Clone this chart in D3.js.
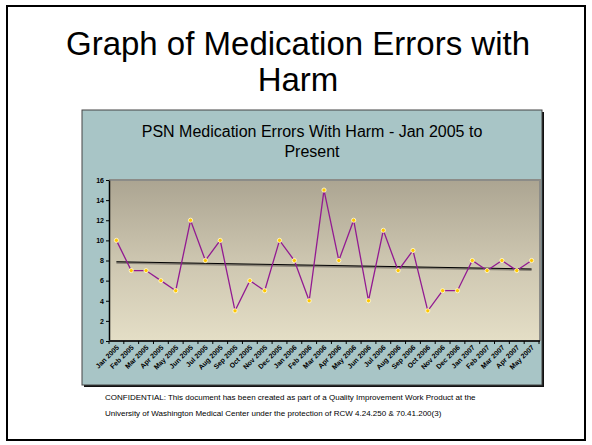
<!DOCTYPE html>
<html>
<head>
<meta charset="utf-8">
<script src="https://cdn.jsdelivr.net/npm/d3@7"></script>
<style>
body { margin: 0; background: #fff; }
svg { display: block; font-family: "Liberation Sans", Arial, sans-serif; }
</style>
</head>
<body>
<svg width="592" height="445"></svg>
<script>
const months = ["Jan 2005", "Feb 2005", "Mar 2005", "Apr 2005", "May 2005", "Jun 2005", "Jul 2005",
    "Aug 2005", "Sep 2005", "Oct 2005", "Nov 2005", "Dec 2005", "Jan 2006", "Feb 2006", "Mar 2006",
    "Apr 2006", "May 2006", "Jun 2006", "Jul 2006", "Aug 2006", "Sep 2006", "Oct 2006", "Nov 2006",
    "Dec 2006", "Jan 2007", "Feb 2007", "Mar 2007", "Apr 2007", "May 2007"];
const errors = [10, 7, 7, 6, 5, 12, 8, 10, 3, 6, 5, 10, 8, 4, 15, 8, 12, 4, 11, 7, 9, 3, 5, 5, 8, 7, 8, 7, 8];
const yTicks = [0, 2, 4, 6, 8, 10, 12, 14, 16];
const slideTitle = ["Graph of Medication Errors with", "Harm"];
const chartTitle = ["PSN Medication Errors With Harm - Jan 2005 to", "Present"];
const footer = ["CONFIDENTIAL:  This document has been created as part of a Quality Improvement Work Product at the",
    "University of Washington Medical Center under the protection of RCW 4.24.250 & 70.41.200(3)"];

let box = ({x: 82, y: 110, w: 460, h: 275});
let plot = ({left: 109, right: 539, top: 180, bottom: 341});

const svg = d3.select("svg");

// slide frame
svg.append("rect")
    .attr("x", 7).attr("y", 6).attr("width", 578).attr("height", 434)
    .attr("fill", "none").attr("stroke", "#000").attr("stroke-width", 2);

svg.append("g")
    .attr("font-size", 33)
    .attr("text-anchor", "middle")
    .selectAll("text")
    .data(slideTitle)
    .join("text")
    .attr("x", 298)
    .attr("y", (d, i) => 55 + i * 36)
    .text(d => d);

// chart box with shadow
svg.append("rect")
    .attr("x", box.x + 2).attr("y", box.y + 2).attr("width", box.w).attr("height", box.h)
    .attr("fill", "#111");
svg.append("rect")
    .attr("x", box.x).attr("y", box.y).attr("width", box.w).attr("height", box.h)
    .attr("fill", "#a8c5c6").attr("stroke", "#444").attr("stroke-width", 1);

svg.append("g")
    .attr("font-size", 16)
    .attr("text-anchor", "middle")
    .selectAll("text")
    .data(chartTitle)
    .join("text")
    .attr("x", box.x + box.w / 2)
    .attr("y", (d, i) => 137 + i * 20)
    .text(d => d);

const defs = svg.append("defs");
const grad = defs.append("linearGradient")
    .attr("id", "plotbg").attr("x1", 0).attr("y1", 0).attr("x2", 0).attr("y2", 1);
grad.append("stop").attr("offset", 0).attr("stop-color", "#aca592");
grad.append("stop").attr("offset", 0.5).attr("stop-color", "#cdc6b0");
grad.append("stop").attr("offset", 1).attr("stop-color", "#e4dec6");

let x = d3.scaleBand(months, [plot.left, plot.right]);
let y = d3.scaleLinear([0, 16], [plot.bottom, plot.top]);
let cx = d => x(d) + x.bandwidth() / 2;

// plot area with grey shadow edge on top/right
svg.append("rect")
    .attr("x", plot.left).attr("y", plot.top - 1)
    .attr("width", plot.right - plot.left + 2).attr("height", plot.bottom - plot.top + 1)
    .attr("fill", "#8c8c88");
svg.append("rect")
    .attr("x", plot.left).attr("y", plot.top + 1)
    .attr("width", plot.right - plot.left).attr("height", plot.bottom - plot.top - 1)
    .attr("fill", "url(#plotbg)");

// y axis
const yAxis = svg.append("g")
    .attr("transform", `translate(${plot.left},0)`)
    .call(d3.axisLeft(y).tickValues(yTicks).tickSize(3).tickPadding(2).tickSizeOuter(0));
yAxis.select(".domain").attr("stroke", "#000").attr("stroke-width", 1.5);
yAxis.selectAll("text")
    .attr("font-family", "Liberation Sans, Arial, sans-serif")
    .attr("font-size", 7).attr("font-weight", "bold").attr("fill", "#000");

// x axis: ticks at band edges, rotated labels
const xAxis = svg.append("g")
    .attr("transform", `translate(0,${plot.bottom})`);
xAxis.append("line")
    .attr("x1", plot.left).attr("x2", plot.right + 1)
    .attr("stroke", "#222").attr("stroke-width", 2);
xAxis.selectAll("line.tick")
    .data(months.map(m => x(m)).concat([plot.right]))
    .join("line")
    .attr("class", "tick")
    .attr("x1", d => d).attr("x2", d => d)
    .attr("y1", 0).attr("y2", 3)
    .attr("stroke", "#000");
xAxis.selectAll("text")
    .data(months)
    .join("text")
    .attr("text-anchor", "end")
    .attr("font-size", 7)
    .attr("font-weight", "bold")
    .attr("transform", d => `translate(${cx(d) + 3},${7}) rotate(-45)`)
    .text(d => d);

// linear trend of the series
const n = errors.length;
const mx = d3.mean(errors, (d, i) => i);
const my = d3.mean(errors);
const slope = d3.sum(errors, (d, i) => (i - mx) * (d - my)) / d3.sum(errors, (d, i) => (i - mx) * (i - mx));
const trend = [0, n - 1].map(i => ({m: months[i], v: my + slope * (i - mx)}));

const line = d3.line().x(d => cx(d.m)).y(d => y(d.v));

svg.append("path")
    .datum(trend)
    .attr("fill", "none")
    .attr("stroke", "#8a8478")
    .attr("stroke-width", 2)
    .attr("transform", "translate(0,1)")
    .attr("d", line);
svg.append("path")
    .datum(trend)
    .attr("fill", "none")
    .attr("stroke", "#000")
    .attr("stroke-width", 1)
    .attr("d", line);

const series = months.map((m, i) => ({m, v: errors[i]}));

svg.append("path")
    .datum(series)
    .attr("fill", "none")
    .attr("stroke", "#921a92")
    .attr("stroke-width", 1.3)
    .attr("d", line);

svg.append("g")
    .selectAll("circle")
    .data(series)
    .join("circle")
    .attr("cx", d => cx(d.m))
    .attr("cy", d => y(d.v))
    .attr("r", 2.1)
    .attr("fill", "#ffc800")
    .attr("stroke", "#fff6cc")
    .attr("stroke-width", 0.9);

// footer
svg.append("g")
    .attr("font-size", 8)
    .selectAll("text")
    .data(footer)
    .join("text")
    .attr("x", 105)
    .attr("y", (d, i) => 400 + i * 16)
    .text(d => d);
</script>
</body>
</html>
